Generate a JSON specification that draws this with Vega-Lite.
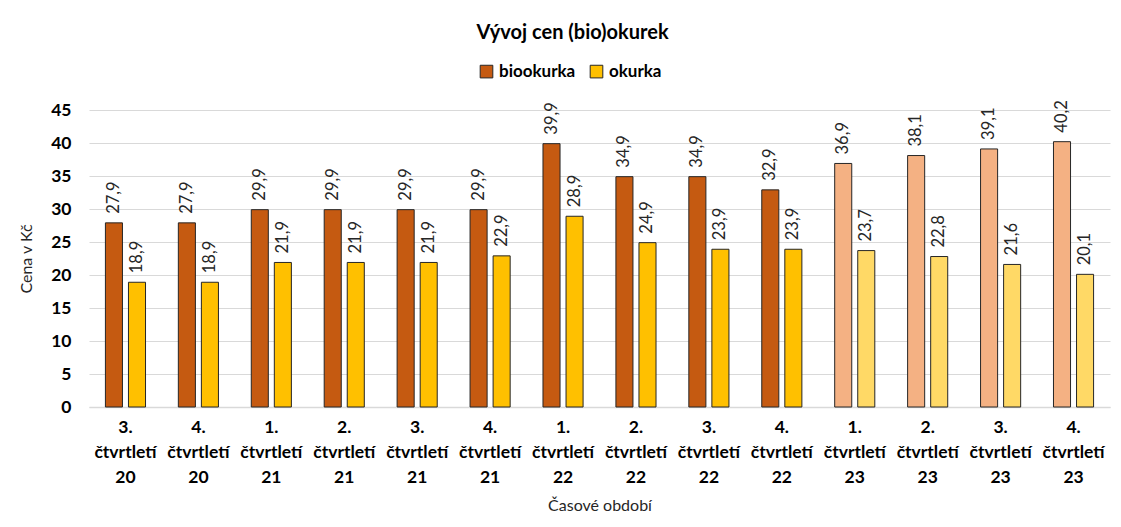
{
  "$schema": "https://vega.github.io/schema/vega-lite/v6.json",
  "width": 1021,
  "height": 297,
  "autosize": "none",
  "padding": {"left": 89, "top": 110, "right": 11, "bottom": 120},
  "background": "white",
  "config": {
    "font": "Lato",
    "view": {"stroke": null},
    "locale": {"number": {"decimal": ",", "thousands": " ", "grouping": [3], "currency": ["", " Kč"]}}
  },
  "title": {
    "text": "Vývoj cen (bio)okurek",
    "fontSize": 20,
    "fontWeight": "bold",
    "color": "#000000",
    "font": "Lato",
    "anchor": "middle",
    "dx": -27,
    "offset": 20
  },
  "data": {
    "values": [
      {"obdobi": "3. čtvrtletí 20", "serie": "biookurka", "barva": "biookurka", "cena": 27.9},
      {"obdobi": "3. čtvrtletí 20", "serie": "okurka", "barva": "okurka", "cena": 18.9},
      {"obdobi": "4. čtvrtletí 20", "serie": "biookurka", "barva": "biookurka", "cena": 27.9},
      {"obdobi": "4. čtvrtletí 20", "serie": "okurka", "barva": "okurka", "cena": 18.9},
      {"obdobi": "1. čtvrtletí 21", "serie": "biookurka", "barva": "biookurka", "cena": 29.9},
      {"obdobi": "1. čtvrtletí 21", "serie": "okurka", "barva": "okurka", "cena": 21.9},
      {"obdobi": "2. čtvrtletí 21", "serie": "biookurka", "barva": "biookurka", "cena": 29.9},
      {"obdobi": "2. čtvrtletí 21", "serie": "okurka", "barva": "okurka", "cena": 21.9},
      {"obdobi": "3. čtvrtletí 21", "serie": "biookurka", "barva": "biookurka", "cena": 29.9},
      {"obdobi": "3. čtvrtletí 21", "serie": "okurka", "barva": "okurka", "cena": 21.9},
      {"obdobi": "4. čtvrtletí 21", "serie": "biookurka", "barva": "biookurka", "cena": 29.9},
      {"obdobi": "4. čtvrtletí 21", "serie": "okurka", "barva": "okurka", "cena": 22.9},
      {"obdobi": "1. čtvrtletí 22", "serie": "biookurka", "barva": "biookurka", "cena": 39.9},
      {"obdobi": "1. čtvrtletí 22", "serie": "okurka", "barva": "okurka", "cena": 28.9},
      {"obdobi": "2. čtvrtletí 22", "serie": "biookurka", "barva": "biookurka", "cena": 34.9},
      {"obdobi": "2. čtvrtletí 22", "serie": "okurka", "barva": "okurka", "cena": 24.9},
      {"obdobi": "3. čtvrtletí 22", "serie": "biookurka", "barva": "biookurka", "cena": 34.9},
      {"obdobi": "3. čtvrtletí 22", "serie": "okurka", "barva": "okurka", "cena": 23.9},
      {"obdobi": "4. čtvrtletí 22", "serie": "biookurka", "barva": "biookurka", "cena": 32.9},
      {"obdobi": "4. čtvrtletí 22", "serie": "okurka", "barva": "okurka", "cena": 23.9},
      {"obdobi": "1. čtvrtletí 23", "serie": "biookurka", "barva": "biookurka 2023", "cena": 36.9},
      {"obdobi": "1. čtvrtletí 23", "serie": "okurka", "barva": "okurka 2023", "cena": 23.7},
      {"obdobi": "2. čtvrtletí 23", "serie": "biookurka", "barva": "biookurka 2023", "cena": 38.1},
      {"obdobi": "2. čtvrtletí 23", "serie": "okurka", "barva": "okurka 2023", "cena": 22.8},
      {"obdobi": "3. čtvrtletí 23", "serie": "biookurka", "barva": "biookurka 2023", "cena": 39.1},
      {"obdobi": "3. čtvrtletí 23", "serie": "okurka", "barva": "okurka 2023", "cena": 21.6},
      {"obdobi": "4. čtvrtletí 23", "serie": "biookurka", "barva": "biookurka 2023", "cena": 40.2},
      {"obdobi": "4. čtvrtletí 23", "serie": "okurka", "barva": "okurka 2023", "cena": 20.1}
    ]
  },
  "encoding": {
    "x": {
      "field": "obdobi",
      "type": "nominal",
      "sort": null,
      "scale": {"paddingInner": 0.45, "paddingOuter": 0.225},
      "axis": {
        "title": "Časové období",
        "titleFont": "Lato",
        "titleFontSize": 16,
        "titleFontWeight": "normal",
        "titleColor": "#262626",
        "titlePadding": 12,
        "labelAngle": 0,
        "labelExpr": "split(datum.label, ' ')",
        "labelFontSize": 17.5,
        "labelFontWeight": "bold",
        "labelColor": "#000000",
        "labelLineHeight": 25,
        "labelPadding": 11,
        "ticks": false,
        "domainColor": "#d9d9d9",
        "domainWidth": 1.5,
        "grid": false
      }
    },
    "xOffset": {
      "field": "serie",
      "type": "nominal",
      "scale": {"domain": ["biookurka", "okurka"], "paddingInner": 0.26}
    },
    "y": {
      "field": "cena",
      "type": "quantitative",
      "scale": {"domain": [0, 45]},
      "axis": {
        "title": "Cena v Kč",
        "titleFont": "Lato",
        "titleFontSize": 16,
        "titleFontWeight": "normal",
        "titleColor": "#262626",
        "titlePadding": 16,
        "values": [0, 5, 10, 15, 20, 25, 30, 35, 40, 45],
        "labelFontSize": 17.5,
        "labelFontWeight": "bold",
        "labelColor": "#000000",
        "labelPadding": 18,
        "ticks": false,
        "domain": false,
        "gridColor": "#d9d9d9",
        "gridWidth": 1.2
      }
    }
  },
  "layer": [
    {
      "mark": {"type": "bar", "stroke": "#262626", "strokeWidth": 1},
      "encoding": {
        "color": {
          "field": "barva",
          "type": "nominal",
          "scale": {
            "domain": ["biookurka", "okurka", "biookurka 2023", "okurka 2023"],
            "range": ["#C55A11", "#FFC000", "#F4B183", "#FFD966"]
          },
          "legend": {
            "values": ["biookurka", "okurka"],
            "title": null,
            "orient": "none",
            "direction": "horizontal",
            "legendX": 389,
            "legendY": -47,
            "symbolType": "square",
            "symbolSize": 160,
            "symbolStrokeColor": "#262626",
            "symbolStrokeWidth": 1,
            "labelFontSize": 17,
            "labelFontWeight": "bold",
            "labelColor": "#000000",
            "labelFont": "Lato",
            "columnPadding": 12,
            "labelOffset": 4
          }
        }
      }
    },
    {
      "mark": {
        "type": "text",
        "angle": 270,
        "align": "left",
        "baseline": "middle",
        "dx": 9,
        "fontSize": 16.5,
        "color": "#262626",
        "font": "Lato"
      },
      "encoding": {
        "text": {"field": "cena", "type": "quantitative", "format": ".1f"}
      }
    }
  ]
}
